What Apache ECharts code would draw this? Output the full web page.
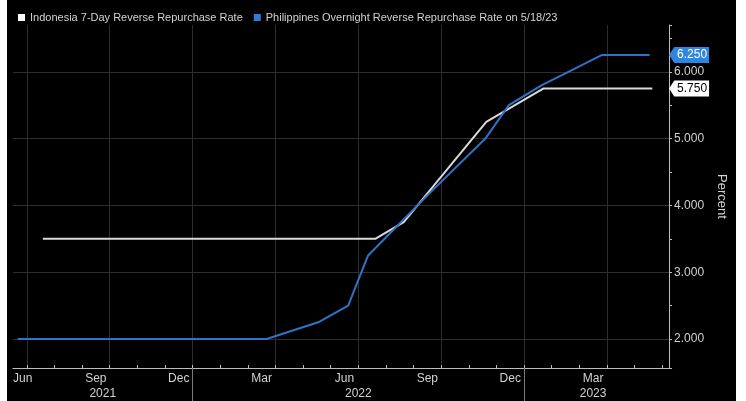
<!DOCTYPE html>
<html><head><meta charset="utf-8">
<script src="https://cdn.jsdelivr.net/npm/echarts@6/dist/echarts.min.js"></script>
<style>
html,body{margin:0;padding:0;background:#fff;width:746px;height:401px;overflow:hidden}
#c{position:absolute;left:7px;top:0;width:729px;height:401px;background:#000}
</style></head><body><div id="c"></div>
<script>
const legendNames = ['Indonesia 7-Day Reverse Repurchase Rate', 'Philippines Overnight Reverse Repurchase Rate on 5/18/23'];
const indonesiaDates = ['2021-07-19', '2022-07-20', '2022-08-21', '2022-11-20', '2023-01-23', '2023-05-21'];
const indonesiaRates = [3.5, 3.5, 3.75, 5.25, 5.75, 5.75];
const philippinesDates = ['2021-06-21', '2022-03-22', '2022-05-18', '2022-06-20', '2022-07-12', '2022-09-16', '2022-11-19', '2022-12-15', '2023-01-21', '2023-02-21', '2023-03-26', '2023-05-18'];
const philippinesRates = [2.0, 2.0, 2.25, 2.5, 3.25, 4.15, 5.0, 5.5, 5.8, 6.02, 6.25, 6.25];
const monthLabels = ['Jan', 'Feb', 'Mar', 'Apr', 'May', 'Jun', 'Jul', 'Aug', 'Sep', 'Oct', 'Nov', 'Dec'];
const yearLabels = ['2021', '2022', '2023'];

// axis range in months since Jan 2021
const xMin = 5.5, xMax = 29.25, step = 0.25;
const yMin = 1.566, yMax = 6.70;

function toMonth(s) {
  const [y, mo, d] = s.split('-').map(Number);
  const dim = new Date(y, mo, 0).getDate();
  return (y - 2021) * 12 + (mo - 1) + (d - 1) / dim;
}
const cats = [];
for (let i = 0; i <= Math.round((xMax - xMin) / step); i++) cats.push(String(xMin + i * step));
const monthAt = i => xMin + i * step;
const yearIdx = yearLabels.map(y => {
  const s = Math.max(xMin, (Number(y) - 2021) * 12), e = Math.min(xMax, (Number(y) - 2020) * 12);
  return Math.floor(((s + e) / 2 - xMin) / step);
});

const indoData = indonesiaDates.map((d, i) => [toMonth(d), indonesiaRates[i]]);
const philData = philippinesDates.map((d, i) => [toMonth(d), philippinesRates[i]]);

const axisCol = '#bdbdbd', txtCol = '#d2d2d2', gridCol = '#2e2e2e';
const tagPath = 'path://M0,8 L6,0 L46,0 L46,16 L6,16 Z';
const font = 'Liberation Sans';

function tag(rates, bg, fg) {
  const v = rates[rates.length - 1];
  return {
    symbol: tagPath, symbolSize: [40, 16], symbolOffset: [20, 0], silent: true,
    data: [{ coord: [xMax, v], value: v }],
    itemStyle: { color: bg },
    label: { show: true, position: 'inside', offset: [3, 0], formatter: p => p.value.toFixed(3), color: fg, fontSize: 12, fontFamily: font }
  };
}

const chart = echarts.init(document.getElementById('c'));
chart.setOption({
  backgroundColor: '#000',
  animation: false,
  textStyle: { fontFamily: font },
  legend: {
    left: 6, top: 7, icon: 'rect', itemWidth: 7, itemHeight: 7, itemGap: 11,
    textStyle: { color: txtCol, fontSize: 11, fontFamily: font },
    data: legendNames
  },
  grid: { left: 6, right: 63, top: 25, bottom: 33, containLabel: false },
  xAxis: [
    {
      type: 'category', data: cats, boundaryGap: false, position: 'bottom',
      axisLine: { lineStyle: { color: axisCol, width: 1 } },
      axisTick: { show: true, inside: true, length: 3, interval: i => i % 4 === 2, lineStyle: { color: axisCol } },
      axisLabel: {
        interval: i => i % 12 === 0, alignMinLabel: 'left',
        formatter: v => monthLabels[Math.floor(Number(v)) % 12],
        color: txtCol, fontSize: 12, margin: 5, fontFamily: font
      },
      splitLine: { show: true, interval: i => i % 12 === 2, lineStyle: { color: gridCol, width: 1 } }
    },
    {
      type: 'category', data: cats, boundaryGap: false, position: 'bottom', offset: 15,
      axisLine: { show: false }, axisTick: { show: false }, splitLine: { show: false },
      axisLabel: {
        interval: i => yearIdx.includes(i),
        formatter: v => String(2021 + Math.floor(Number(v) / 12)),
        color: txtCol, fontSize: 12, margin: 5, fontFamily: font
      }
    },
    {
      type: 'category', data: cats, boundaryGap: false, position: 'bottom', offset: 0,
      axisLine: { show: false }, axisLabel: { show: false }, splitLine: { show: false },
      axisTick: { show: true, length: 33, interval: i => i > 0 && monthAt(i) % 12 === 0, lineStyle: { color: '#7a7a7a' } }
    },
    { type: 'value', min: xMin, max: xMax, show: false }
  ],
  yAxis: {
    type: 'value', position: 'right', min: yMin, max: yMax, splitNumber: 5,
    axisLine: { show: true, lineStyle: { color: axisCol } },
    axisTick: { show: true, length: 3, lineStyle: { color: axisCol } },
    minorTick: { show: true, splitNumber: 2, length: 3, lineStyle: { color: axisCol } },
    axisLabel: { formatter: v => v.toFixed(3), color: txtCol, fontSize: 12, margin: 5, showMinLabel: false, showMaxLabel: false, fontFamily: font },
    splitLine: { show: true, showMinLine: false, showMaxLine: false, lineStyle: { color: gridCol } },
    name: 'Percent', nameLocation: 'middle', nameRotate: -90, nameGap: 44,
    nameTextStyle: { color: txtCol, fontSize: 13, fontFamily: font }
  },
  series: [
    {
      name: legendNames[0], type: 'line', xAxisIndex: 3, data: indoData,
      symbol: 'none', lineStyle: { color: '#d9d9d9', width: 2 }, itemStyle: { color: '#ffffff' },
      markPoint: tag(indonesiaRates, '#ffffff', '#000000')
    },
    {
      name: legendNames[1], type: 'line', xAxisIndex: 3, data: philData,
      symbol: 'none', lineStyle: { color: '#2f73c6', width: 2 }, itemStyle: { color: '#2f7ad6' },
      markPoint: tag(philippinesRates, '#2f86e0', '#ffffff')
    }
  ]
});
</script></body></html>
